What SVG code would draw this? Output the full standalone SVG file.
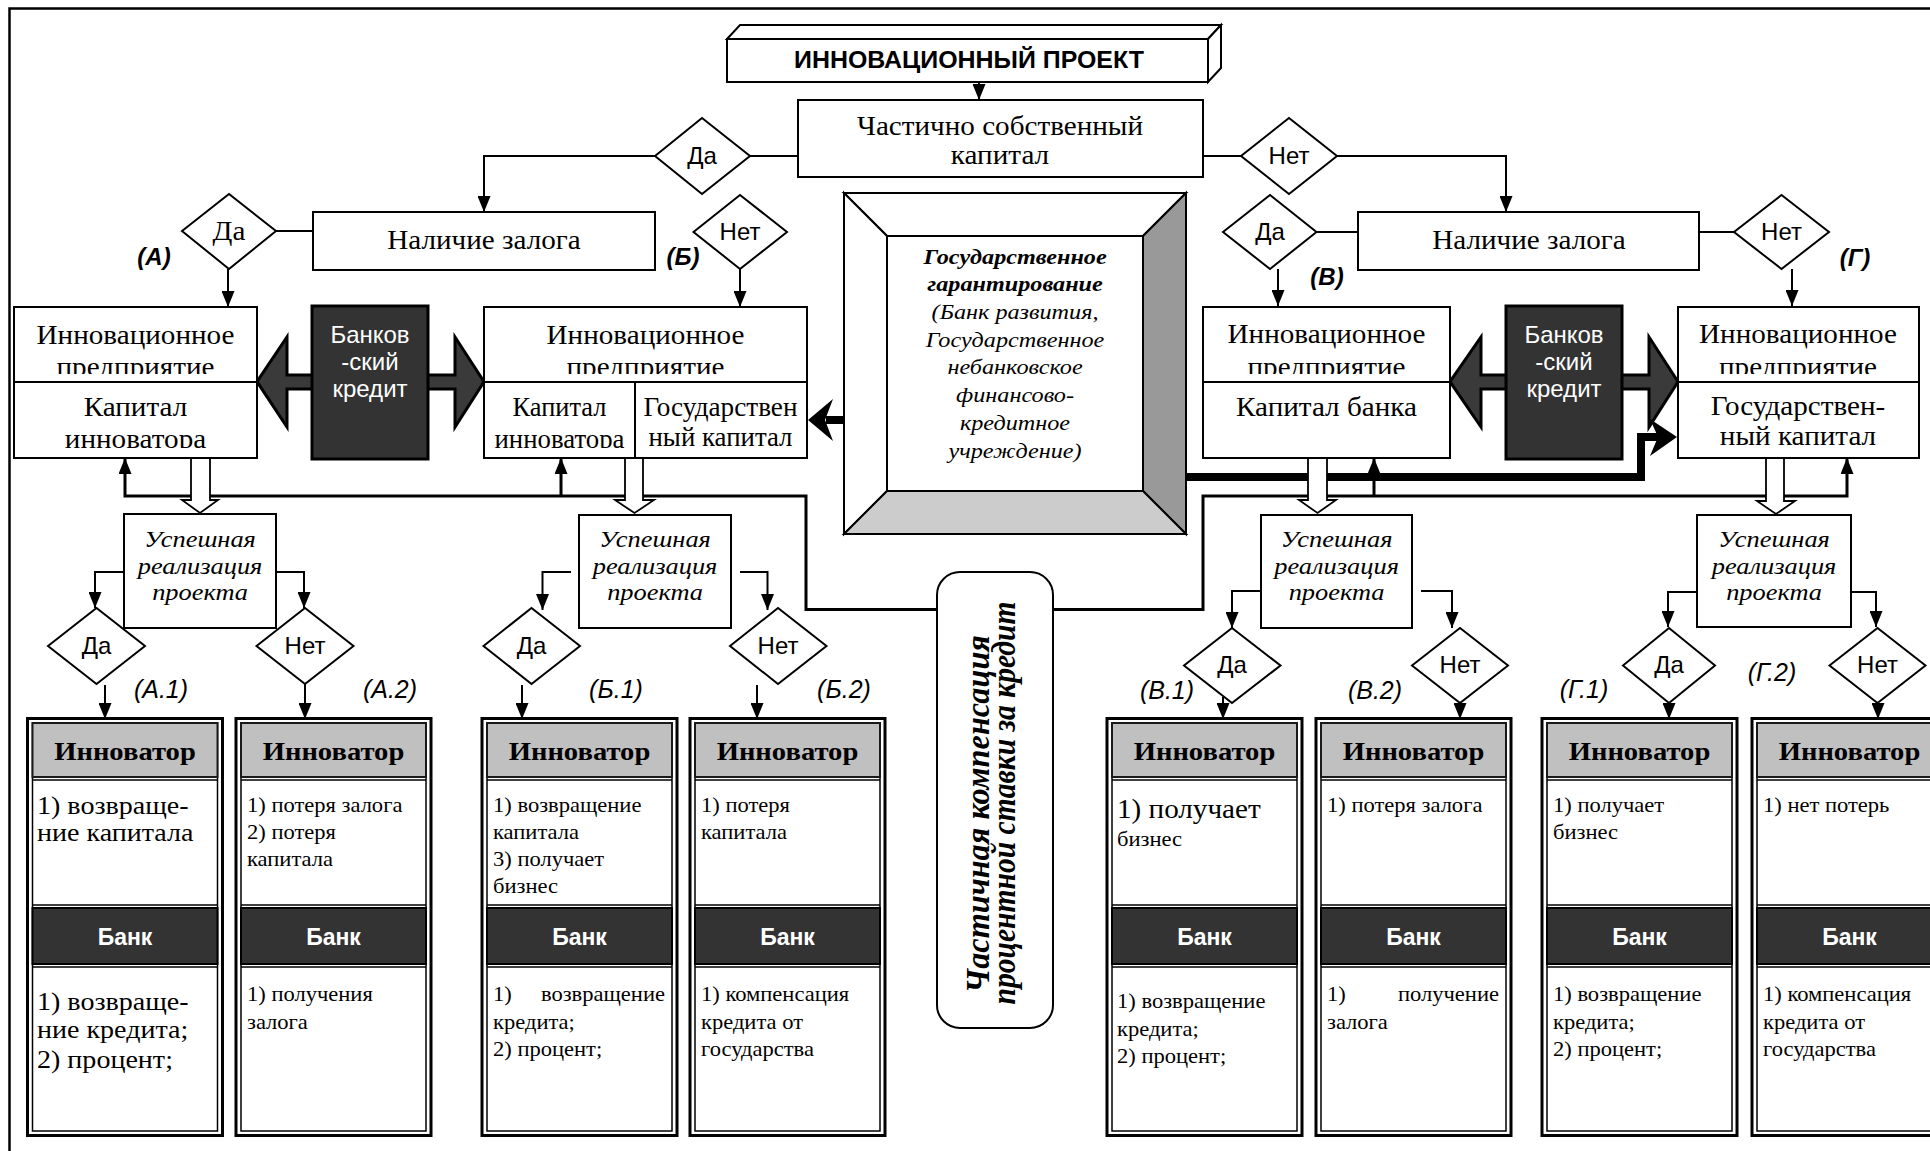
<svg xmlns="http://www.w3.org/2000/svg" width="1930" height="1151" viewBox="0 0 1930 1151">
<defs>
<style>
.bx{fill:#fff;stroke:#000;stroke-width:2}
.ln{fill:none;stroke:#000;stroke-width:2}
.bus{fill:none;stroke:#000;stroke-width:3}
.thk{fill:none;stroke:#000;stroke-width:8}
.hol{fill:#fff;stroke:#000;stroke-width:1.8}
.dk{fill:#333;stroke:#000;stroke-width:3}
.dar{fill:#3a3a3a;stroke:#000;stroke-width:3}
.ser{font-family:"Liberation Serif","Times New Roman",serif;fill:#000}
.san{font-family:"Liberation Sans",Arial,sans-serif;fill:#000}
.m{text-anchor:middle}
.e{text-anchor:end}
.sc{transform-box:fill-box;transform-origin:50% 50%;transform:scaleX(1.1)}
.sl{transform-box:fill-box;transform-origin:0% 50%;transform:scaleX(1.1)}
.sr{transform-box:fill-box;transform-origin:100% 50%;transform:scaleX(1.1)}
.f24{font-size:26.5px}
.f20{font-size:22px}
.fs{font-size:20.5px}
.fb{font-size:25.5px}
.dt{font-family:"Liberation Sans",Arial,sans-serif;font-size:24px;text-anchor:middle}
.lb{font-family:"Liberation Sans",Arial,sans-serif;font-size:24px;font-weight:bold;font-style:italic;text-anchor:middle}
.ls{font-family:"Liberation Sans",Arial,sans-serif;font-size:25px;font-style:italic;text-anchor:middle}
.wt{font-family:"Liberation Sans",Arial,sans-serif;font-size:24px;fill:#fff;text-anchor:middle}
.to{fill:#fff;stroke:#000;stroke-width:3}
.ti{fill:none;stroke:#000;stroke-width:1.5}
.h1{fill:#c0c0c0;stroke:#1a1a1a;stroke-width:2}
.h2{fill:#333;stroke:#000;stroke-width:2}
.tl{stroke:#000;stroke-width:1.5}
.ht{font-family:"Liberation Serif","Times New Roman",serif;font-size:26px;font-weight:bold;text-anchor:middle}
.bt{font-family:"Liberation Sans",Arial,sans-serif;font-size:23px;font-weight:bold;fill:#fff;text-anchor:middle}
</style>
<marker id="ah" markerUnits="userSpaceOnUse" markerWidth="16" markerHeight="13" viewBox="0 0 16 13" refX="16" refY="6.5" orient="auto"><path d="M0,0 L16,6.5 L0,13 z" fill="#000"/></marker>
<clipPath id="cT"><rect x="0" y="290" width="1930" height="84"/></clipPath>
<clipPath id="cB"><rect x="0" y="385" width="1930" height="63"/></clipPath>
</defs>

<rect x="9.5" y="8.5" width="1935" height="1160" fill="none" stroke="#000" stroke-width="2.5"/>

<g id="credit-arrows">
<polygon class="dar" points="257,381.7 287,337 287,375 455,375 455,337 484,381.7 455,427 455,389 287,389 287,427"/>
<polygon class="dar" points="1450,381.7 1481,337 1481,375 1649,375 1649,337 1678,381.7 1649,427 1649,389 1481,389 1481,427"/>
</g>

<g id="connectors">
<path class="ln" d="M979,52 V100" marker-end="url(#ah)"/>
<path class="ln" d="M798,156 H750"/>
<path class="ln" d="M655,156 H484 V212" marker-end="url(#ah)"/>
<path class="ln" d="M1203,156 H1241"/>
<path class="ln" d="M1337,156 H1506 V212" marker-end="url(#ah)"/>
<path class="ln" d="M313,231 H276"/>
<path class="ln" d="M228,269 V307" marker-end="url(#ah)"/>
<path class="ln" d="M740,269 V307" marker-end="url(#ah)"/>
<path class="ln" d="M1358,232 H1316"/>
<path class="ln" d="M1278,269 V306" marker-end="url(#ah)"/>
<path class="ln" d="M1699,232 H1734"/>
<path class="ln" d="M1792,269 V306" marker-end="url(#ah)"/>
<path class="bus" d="M939,609.5 H806 V496 H125 V458" marker-end="url(#ah)"/>
<path class="bus" d="M561,496 V458" marker-end="url(#ah)"/>
<path class="bus" d="M1053,609.5 H1203 V496 H1847 V458" marker-end="url(#ah)"/>
<path class="bus" d="M1374,496 V458" marker-end="url(#ah)"/>
<path class="thk" d="M1186,477 H1641 V437 H1660"/>
<polygon points="1677,437 1650,419 1658,437 1650,456" fill="#000"/>
<path class="thk" stroke-width="9" d="M844,420 H826"/>
<polygon points="808,420 833,399 825,420 833,441" fill="#000"/>
<polygon class="hol" points="191,458 210,458 210,500 218,500 200,513 182,500 191,500"/>
<polygon class="hol" points="625,458 643,458 643,500 654,500 634.5,513 615,500 625,500"/>
<polygon class="hol" points="1308,458 1327,458 1327,500 1336,500 1317.5,513 1299,500 1308,500"/>
<polygon class="hol" points="1766,458 1784,458 1784,501 1795,501 1776,514 1757,501 1766,501"/>
<path class="ln" d="M124,572 H95 V608" marker-end="url(#ah)"/>
<path class="ln" d="M276,572 H304 V608" marker-end="url(#ah)"/>
<path class="ln" d="M571,572 H542.5 V610" marker-end="url(#ah)"/>
<path class="ln" d="M740,572 H767.5 V610" marker-end="url(#ah)"/>
<path class="ln" d="M1261,591 H1232 V628" marker-end="url(#ah)"/>
<path class="ln" d="M1421,591 H1452 V628" marker-end="url(#ah)"/>
<path class="ln" d="M1697,592 H1668 V627" marker-end="url(#ah)"/>
<path class="ln" d="M1851,592 H1876 V627" marker-end="url(#ah)"/>
<path class="ln" d="M105,685 V719" marker-end="url(#ah)"/>
<path class="ln" d="M305,684 V719" marker-end="url(#ah)"/>
<path class="ln" d="M522,685 V719" marker-end="url(#ah)"/>
<path class="ln" d="M757,685 V719" marker-end="url(#ah)"/>
<path class="ln" d="M1223,697 V719" marker-end="url(#ah)"/>
<path class="ln" d="M1460,690 V719" marker-end="url(#ah)"/>
<path class="ln" d="M1669,695 V719" marker-end="url(#ah)"/>
<path class="ln" d="M1878,695 V719" marker-end="url(#ah)"/>
</g>

<g id="n-project">
<polygon class="bx" points="727,39 740,25 1221,25 1208,39"/>
<polygon class="bx" points="1208,39 1221,25 1221,68 1208,82"/>
<rect class="bx" x="727" y="39" width="481" height="43"/>
<text class="san m" x="969" y="68" font-size="24" font-weight="bold" textLength="350" lengthAdjust="spacingAndGlyphs">ИННОВАЦИОННЫЙ ПРОЕКТ</text>
</g>

<g id="n-partial">
<rect class="bx" x="798" y="100" width="405" height="77"/>
<text class="ser f24 m sc" x="1000" y="135"><tspan x="1000">Частично собственный</tspan><tspan x="1000" y="164">капитал</tspan></text>
</g>

<g id="d-yes-top"><polygon class="bx" points="655,156 702,118 750,156 702,194"/><text class="dt" x="702" y="164">Да</text></g>
<g id="d-no-top"><polygon class="bx" points="1241,156 1289,118 1337,156 1289,194"/><text class="dt" x="1289" y="164">Нет</text></g>

<g id="n-collateral-left"><rect class="bx" x="313" y="212" width="342" height="58"/><text class="ser f24 m sc" x="484" y="249">Наличие залога</text></g>
<g id="n-collateral-right"><rect class="bx" x="1358" y="212" width="341" height="58"/><text class="ser f24 m sc" x="1529" y="249">Наличие залога</text></g>

<g id="d-A"><polygon class="bx" points="182,231 229,194 276,231 229,269"/><text class="ser f24 m sc" x="229" y="240">Да</text></g>
<g id="d-B"><polygon class="bx" points="693.5,232 740,195 787,232 740,269"/><text class="dt" x="740" y="240">Нет</text></g>
<g id="d-V"><polygon class="bx" points="1223,232 1270,195 1316.5,232 1270,269"/><text class="dt" x="1270" y="240">Да</text></g>
<g id="d-G"><polygon class="bx" points="1734,232 1781.5,195 1829,232 1781.5,269"/><text class="dt" x="1781.5" y="240">Нет</text></g>

<g id="labels">
<text class="lb" x="154" y="265">(А)</text>
<text class="lb" x="683" y="265">(Б)</text>
<text class="lb" x="1327" y="285">(В)</text>
<text class="lb" x="1855" y="266">(Г)</text>
<text class="ls" x="161" y="698">(А.1)</text>
<text class="ls" x="390" y="698">(А.2)</text>
<text class="ls" x="616" y="698">(Б.1)</text>
<text class="ls" x="844" y="698">(Б.2)</text>
<text class="ls" x="1167" y="699">(В.1)</text>
<text class="ls" x="1375" y="699">(В.2)</text>
<text class="ls" x="1584" y="698">(Г.1)</text>
<text class="ls" x="1772" y="681">(Г.2)</text>
</g>

<g id="n-credit-left"><rect class="dk" x="312" y="306" width="116" height="153"/><text class="wt" x="370" y="343"><tspan x="370">Банков</tspan><tspan x="370" y="370">-ский</tspan><tspan x="370" y="397">кредит</tspan></text></g>
<g id="n-credit-right"><rect class="dk" x="1506" y="306" width="116" height="153"/><text class="wt" x="1564" y="343"><tspan x="1564">Банков</tspan><tspan x="1564" y="370">-ский</tspan><tspan x="1564" y="397">кредит</tspan></text></g>

<g id="n-ent-A">
<rect class="bx" x="14" y="307" width="243" height="75"/>
<text class="ser f24 m sc" x="135.5" y="344">Инновационное</text>
<g clip-path="url(#cT)"><text class="ser f24 m sc" x="135.5" y="376">предприятие</text></g>
<rect class="bx" x="14" y="382" width="243" height="76"/>
<text class="ser f24 m sc" x="135.5" y="416">Капитал</text>
<g clip-path="url(#cB)"><text class="ser f24 m sc" x="135.5" y="448">инноватора</text></g>
</g>

<g id="n-ent-B">
<rect class="bx" x="484" y="307" width="323" height="75"/>
<text class="ser f24 m sc" x="645.5" y="344">Инновационное</text>
<g clip-path="url(#cT)"><text class="ser f24 m sc" x="645.5" y="376">предприятие</text></g>
<rect class="bx" x="484" y="382" width="323" height="76"/>
<line class="ln" x1="635" y1="382" x2="635" y2="458"/>
<text class="ser f24 m" x="559.5" y="416" textLength="94" lengthAdjust="spacingAndGlyphs">Капитал</text>
<g clip-path="url(#cB)"><text class="ser f24 m" x="559.5" y="448" textLength="130" lengthAdjust="spacingAndGlyphs">инноватора</text></g>
<text class="ser f24 m" x="720.5" y="416" textLength="154" lengthAdjust="spacingAndGlyphs">Государствен</text>
<text class="ser f24 m" x="720.5" y="446" textLength="144" lengthAdjust="spacingAndGlyphs">ный капитал</text>
</g>

<g id="n-ent-V">
<rect class="bx" x="1203" y="307" width="247" height="75"/>
<text class="ser f24 m sc" x="1326.5" y="343">Инновационное</text>
<g clip-path="url(#cT)"><text class="ser f24 m sc" x="1326.5" y="376">предприятие</text></g>
<rect class="bx" x="1203" y="382" width="247" height="76"/>
<text class="ser f24 m sc" x="1326.5" y="416">Капитал банка</text>
</g>

<g id="n-ent-G">
<rect class="bx" x="1678" y="307" width="241" height="75"/>
<text class="ser f24 m sc" x="1798" y="343">Инновационное</text>
<g clip-path="url(#cT)"><text class="ser f24 m sc" x="1798" y="376">предприятие</text></g>
<rect class="bx" x="1678" y="382" width="241" height="76"/>
<text class="ser f24 m sc" x="1798" y="415">Государствен-</text>
<text class="ser f24 m sc" x="1798" y="445">ный капитал</text>
</g>

<g id="n-guarantee">
<polygon class="bx" points="844,193 1186,193 1143,236 887,236"/>
<polygon class="bx" points="844,193 887,236 887,491 844,534"/>
<polygon points="1186,193 1186,534 1143,491 1143,236" fill="#999" stroke="#000" stroke-width="2"/>
<polygon points="844,534 1186,534 1143,491 887,491" fill="#ccc" stroke="#000" stroke-width="2"/>
<rect class="bx" x="887" y="236" width="256" height="255"/>
<text class="ser f20 m sc" font-style="italic" x="1015" y="264"><tspan x="1015" font-weight="bold">Государственное</tspan><tspan x="1015" y="291" font-weight="bold">гарантирование</tspan><tspan x="1015" y="319">(Банк развития,</tspan><tspan x="1015" y="347">Государственное</tspan><tspan x="1015" y="374">небанковское</tspan><tspan x="1015" y="402">финансово-</tspan><tspan x="1015" y="430">кредитное</tspan><tspan x="1015" y="458">учреждение)</tspan></text>
</g>

<g id="n-compensation">
<rect class="bx" x="937" y="572" width="116" height="456" rx="23" ry="23"/>
<text class="ser m" font-size="33" font-weight="bold" font-style="italic" transform="translate(989,814) rotate(-90)" x="0" y="0" textLength="358" lengthAdjust="spacingAndGlyphs">Частичная компенсация</text>
<text class="ser m" font-size="33" font-weight="bold" font-style="italic" transform="translate(1015,803) rotate(-90)" x="0" y="0" textLength="403" lengthAdjust="spacingAndGlyphs">процентной ставки за кредит</text>
</g>

<g id="n-success-A"><rect class="bx" x="124" y="514" width="152" height="114"/><text class="ser m sc" font-size="24" font-style="italic" x="200" y="547"><tspan x="200">Успешная</tspan><tspan x="200" y="574">реализация</tspan><tspan x="200" y="600">проекта</tspan></text></g>
<g id="n-success-B"><rect class="bx" x="579" y="515" width="152" height="113"/><text class="ser m sc" font-size="24" font-style="italic" x="655" y="547"><tspan x="655">Успешная</tspan><tspan x="655" y="574">реализация</tspan><tspan x="655" y="600">проекта</tspan></text></g>
<g id="n-success-V"><rect class="bx" x="1261" y="515" width="151" height="113"/><text class="ser m sc" font-size="24" font-style="italic" x="1336.5" y="547"><tspan x="1336.5">Успешная</tspan><tspan x="1336.5" y="574">реализация</tspan><tspan x="1336.5" y="600">проекта</tspan></text></g>
<g id="n-success-G"><rect class="bx" x="1697" y="515" width="154" height="112"/><text class="ser m sc" font-size="24" font-style="italic" x="1774" y="547"><tspan x="1774">Успешная</tspan><tspan x="1774" y="574">реализация</tspan><tspan x="1774" y="600">проекта</tspan></text></g>

<g id="d-A1"><polygon class="bx" points="48,646 96.5,608 145,646 96.5,684"/><text class="dt" x="96.5" y="654">Да</text></g>
<g id="d-A2"><polygon class="bx" points="256.5,646 305,608 353.5,646 305,684"/><text class="dt" x="305" y="654">Нет</text></g>
<g id="d-B1"><polygon class="bx" points="483.5,646 531.5,608 580,646 531.5,684"/><text class="dt" x="531.5" y="654">Да</text></g>
<g id="d-B2"><polygon class="bx" points="730,646 778,608 826.5,646 778,684"/><text class="dt" x="778" y="654">Нет</text></g>
<g id="d-V1"><polygon class="bx" points="1184,665.5 1232,628 1280.5,665.5 1232,703"/><text class="dt" x="1232" y="673">Да</text></g>
<g id="d-V2"><polygon class="bx" points="1412,665.5 1460,628 1508,665.5 1460,703"/><text class="dt" x="1460" y="673">Нет</text></g>
<g id="d-G1"><polygon class="bx" points="1623,665.5 1669,628 1715,665.5 1669,703"/><text class="dt" x="1669" y="673">Да</text></g>
<g id="d-G2"><polygon class="bx" points="1829.5,665.5 1877.5,628 1925.5,665.5 1877.5,703"/><text class="dt" x="1877.5" y="673">Нет</text></g>

<g id="t-A1">
<rect class="to" x="27.5" y="718.5" width="195" height="417"/><rect class="ti" x="32.5" y="723" width="185" height="408"/>
<rect class="h1" x="32.5" y="723" width="185" height="54"/><line class="tl" x1="32.5" y1="780" x2="217.5" y2="780"/><line class="tl" x1="32.5" y1="905" x2="217.5" y2="905"/>
<rect class="h2" x="32.5" y="908" width="185" height="56"/><line class="tl" x1="32.5" y1="967" x2="217.5" y2="967"/>
<text class="ht sc" x="125" y="760">Инноватор</text><text class="bt" x="125" y="945">Банк</text>
<text class="ser fb sl" x="37" y="814"><tspan x="37">1) возвраще-</tspan><tspan x="37" y="841">ние капитала</tspan></text>
<text class="ser fb sl" x="37" y="1010"><tspan x="37">1) возвраще-</tspan><tspan x="37" y="1038">ние кредита;</tspan><tspan x="37" y="1068">2) процент;</tspan></text>
</g>
<g id="t-A2">
<rect class="to" x="236" y="718.5" width="195" height="417"/><rect class="ti" x="241" y="723" width="185" height="408"/>
<rect class="h1" x="241" y="723" width="185" height="54"/><line class="tl" x1="241" y1="780" x2="426" y2="780"/><line class="tl" x1="241" y1="905" x2="426" y2="905"/>
<rect class="h2" x="241" y="908" width="185" height="56"/><line class="tl" x1="241" y1="967" x2="426" y2="967"/>
<text class="ht sc" x="333.5" y="760">Инноватор</text><text class="bt" x="333.5" y="945">Банк</text>
<text class="ser fs sl" x="247" y="812"><tspan x="247">1) потеря залога</tspan><tspan x="247" y="839">2) потеря</tspan><tspan x="247" y="866">капитала</tspan></text>
<text class="ser fs sl" x="247" y="1001"><tspan x="247">1) получения</tspan><tspan x="247" y="1029">залога</tspan></text>
</g>
<g id="t-B1">
<rect class="to" x="482" y="718.5" width="195" height="417"/><rect class="ti" x="487" y="723" width="185" height="408"/>
<rect class="h1" x="487" y="723" width="185" height="54"/><line class="tl" x1="487" y1="780" x2="672" y2="780"/><line class="tl" x1="487" y1="905" x2="672" y2="905"/>
<rect class="h2" x="487" y="908" width="185" height="56"/><line class="tl" x1="487" y1="967" x2="672" y2="967"/>
<text class="ht sc" x="579.5" y="760">Инноватор</text><text class="bt" x="579.5" y="945">Банк</text>
<text class="ser fs sl" x="493" y="812"><tspan x="493">1) возвращение</tspan><tspan x="493" y="839">капитала</tspan><tspan x="493" y="866">3) получает</tspan><tspan x="493" y="893">бизнес</tspan></text>
<text class="ser fs sl" x="493" y="1001">1)</text><text class="ser fs e sr" x="665" y="1001">возвращение</text>
<text class="ser fs sl" x="493" y="1029"><tspan x="493">кредита;</tspan><tspan x="493" y="1056">2) процент;</tspan></text>
</g>
<g id="t-B2">
<rect class="to" x="690" y="718.5" width="195" height="417"/><rect class="ti" x="695" y="723" width="185" height="408"/>
<rect class="h1" x="695" y="723" width="185" height="54"/><line class="tl" x1="695" y1="780" x2="880" y2="780"/><line class="tl" x1="695" y1="905" x2="880" y2="905"/>
<rect class="h2" x="695" y="908" width="185" height="56"/><line class="tl" x1="695" y1="967" x2="880" y2="967"/>
<text class="ht sc" x="787.5" y="760">Инноватор</text><text class="bt" x="787.5" y="945">Банк</text>
<text class="ser fs sl" x="701" y="812"><tspan x="701">1) потеря</tspan><tspan x="701" y="839">капитала</tspan></text>
<text class="ser fs sl" x="701" y="1001"><tspan x="701">1) компенсация</tspan><tspan x="701" y="1029">кредита от</tspan><tspan x="701" y="1056">государства</tspan></text>
</g>
<g id="t-V1">
<rect class="to" x="1107" y="718.5" width="195" height="417"/><rect class="ti" x="1112" y="723" width="185" height="408"/>
<rect class="h1" x="1112" y="723" width="185" height="54"/><line class="tl" x1="1112" y1="780" x2="1297" y2="780"/><line class="tl" x1="1112" y1="905" x2="1297" y2="905"/>
<rect class="h2" x="1112" y="908" width="185" height="56"/><line class="tl" x1="1112" y1="967" x2="1297" y2="967"/>
<text class="ht sc" x="1204.5" y="760">Инноватор</text><text class="bt" x="1204.5" y="945">Банк</text>
<text class="ser sl" font-size="26.5" x="1117" y="818">1) получает</text>
<text class="ser fs sl" x="1117" y="846">бизнес</text>
<text class="ser fs sl" x="1117" y="1008"><tspan x="1117">1) возвращение</tspan><tspan x="1117" y="1036">кредита;</tspan><tspan x="1117" y="1063">2) процент;</tspan></text>
</g>
<g id="t-V2">
<rect class="to" x="1316" y="718.5" width="195" height="417"/><rect class="ti" x="1321" y="723" width="185" height="408"/>
<rect class="h1" x="1321" y="723" width="185" height="54"/><line class="tl" x1="1321" y1="780" x2="1506" y2="780"/><line class="tl" x1="1321" y1="905" x2="1506" y2="905"/>
<rect class="h2" x="1321" y="908" width="185" height="56"/><line class="tl" x1="1321" y1="967" x2="1506" y2="967"/>
<text class="ht sc" x="1413.5" y="760">Инноватор</text><text class="bt" x="1413.5" y="945">Банк</text>
<text class="ser fs sl" x="1327" y="812">1) потеря залога</text>
<text class="ser fs sl" x="1327" y="1001">1)</text><text class="ser fs e sr" x="1499" y="1001">получение</text>
<text class="ser fs sl" x="1327" y="1029">залога</text>
</g>
<g id="t-G1">
<rect class="to" x="1542" y="718.5" width="195" height="417"/><rect class="ti" x="1547" y="723" width="185" height="408"/>
<rect class="h1" x="1547" y="723" width="185" height="54"/><line class="tl" x1="1547" y1="780" x2="1732" y2="780"/><line class="tl" x1="1547" y1="905" x2="1732" y2="905"/>
<rect class="h2" x="1547" y="908" width="185" height="56"/><line class="tl" x1="1547" y1="967" x2="1732" y2="967"/>
<text class="ht sc" x="1639.5" y="760">Инноватор</text><text class="bt" x="1639.5" y="945">Банк</text>
<text class="ser fs sl" x="1553" y="812"><tspan x="1553">1) получает</tspan><tspan x="1553" y="839">бизнес</tspan></text>
<text class="ser fs sl" x="1553" y="1001"><tspan x="1553">1) возвращение</tspan><tspan x="1553" y="1029">кредита;</tspan><tspan x="1553" y="1056">2) процент;</tspan></text>
</g>
<g id="t-G2">
<rect class="to" x="1752" y="718.5" width="195" height="417"/><rect class="ti" x="1757" y="723" width="185" height="408"/>
<rect class="h1" x="1757" y="723" width="185" height="54"/><line class="tl" x1="1757" y1="780" x2="1942" y2="780"/><line class="tl" x1="1757" y1="905" x2="1942" y2="905"/>
<rect class="h2" x="1757" y="908" width="185" height="56"/><line class="tl" x1="1757" y1="967" x2="1942" y2="967"/>
<text class="ht sc" x="1849.5" y="760">Инноватор</text><text class="bt" x="1849.5" y="945">Банк</text>
<text class="ser fs sl" x="1763" y="812">1) нет потерь</text>
<text class="ser fs sl" x="1763" y="1001"><tspan x="1763">1) компенсация</tspan><tspan x="1763" y="1029">кредита от</tspan><tspan x="1763" y="1056">государства</tspan></text>
</g>
</svg>
